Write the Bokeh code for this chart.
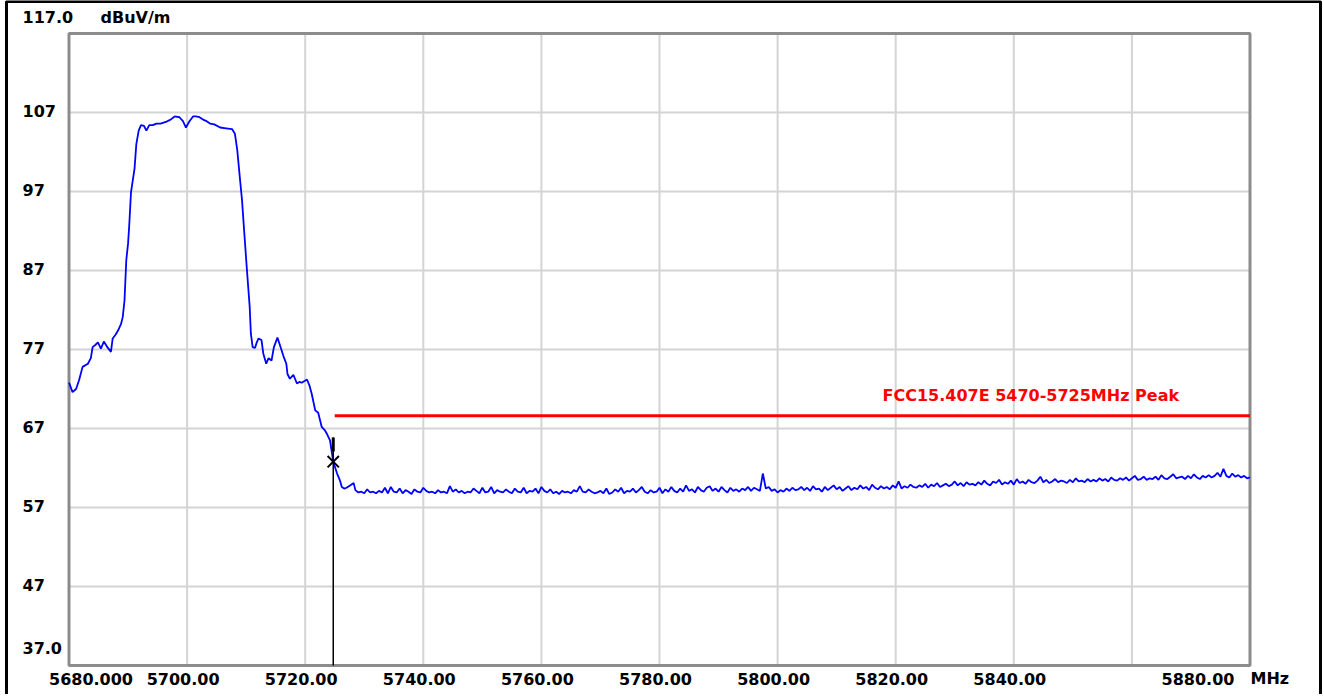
import numpy as np
from bokeh.plotting import figure
from bokeh.models import Range1d, Label
from bokeh.embed import file_html
from bokeh.resources import INLINE

# ---------------- data ----------------
# trace, signal region (MHz, dBuV/m)
sig_freq = [5680.0, 5680.6, 5681.2, 5681.7, 5682.3, 5683.2, 5683.7, 5684.0, 5684.5, 5684.9,
            5685.4, 5685.9, 5686.4, 5687.1, 5687.4, 5687.9, 5688.3, 5688.8, 5689.1, 5689.4,
            5689.7, 5690.0, 5690.2, 5690.5, 5690.8, 5691.1, 5691.4, 5691.8, 5692.2, 5692.7,
            5693.1, 5693.6, 5694.2, 5694.8, 5695.5, 5696.4, 5697.2, 5697.9, 5698.7, 5699.3,
            5699.8, 5700.4, 5701.0, 5701.5, 5702.1, 5702.7, 5703.3, 5703.9, 5704.6, 5705.6,
            5706.6, 5707.6, 5708.1, 5708.5, 5708.9, 5709.3, 5709.7, 5710.1, 5710.6, 5710.8,
            5711.1, 5711.5, 5711.8, 5712.1, 5712.6, 5712.9, 5713.4, 5713.8, 5714.3, 5714.7,
            5715.3, 5715.7, 5716.3, 5716.8, 5717.0, 5717.4, 5718.0, 5718.6, 5719.0, 5719.4,
            5720.3, 5720.7, 5721.1, 5721.7, 5722.2, 5722.8, 5723.3, 5723.7, 5724.2, 5724.75,
            5725.4, 5725.9, 5726.2, 5726.6, 5727.0, 5727.6, 5728.2]
sig_level = [72.8, 71.6, 72.0, 73.1, 74.8, 75.2, 75.9, 77.3, 77.6, 77.9,
             77.1, 78.0, 77.4, 76.7, 78.4, 78.9, 79.4, 80.2, 81.1, 83.2,
             88.3, 90.4, 92.7, 96.9, 98.4, 99.9, 103.0, 104.7, 105.4, 105.3,
             104.7, 105.4, 105.4, 105.6, 105.6, 105.8, 106.1, 106.5, 106.4, 105.9,
             105.1, 105.9, 106.5, 106.5, 106.4, 106.1, 105.9, 105.6, 105.5, 105.1,
             105.0, 104.9, 104.3, 102.2, 99.0, 95.9, 91.6, 87.4, 82.4, 79.0,
             77.3, 77.2, 77.9, 78.4, 78.2, 76.5, 75.2, 75.9, 75.6, 77.3,
             78.5, 77.6, 76.2, 75.2, 73.9, 73.3, 73.8, 72.7, 72.9, 72.8,
             73.2, 72.5, 71.4, 69.3, 69.0, 67.2, 66.8, 66.3, 65.5, 62.8,
             61.3, 60.4, 59.6, 59.4, 59.5, 59.8, 60.1]

# trace, noise floor region: sweep points every 0.5 MHz from 5728.5 MHz
noise_start = 5728.5
noise_step = 0.5
noise_level = [
    59.2, 58.9, 59.0, 58.8, 59.3, 58.9, 59.0, 58.8, 59.1, 58.9,
    59.5, 58.8, 59.6, 59.0, 58.9, 59.4, 58.8, 59.2, 59.0, 58.7,
    59.3, 59.0, 58.9, 59.5, 59.1, 58.9, 59.0, 58.8, 59.2, 58.9,
    59.0, 58.8, 59.7, 59.0, 59.3, 58.9, 59.1, 58.8, 59.0, 58.9,
    59.4, 59.1, 58.8, 59.5, 58.9, 59.0, 59.6, 58.8, 59.2, 59.0,
    58.9, 59.3, 59.0, 58.8, 59.4, 59.0, 58.9, 59.5, 58.8, 59.1,
    59.0, 59.4, 58.8, 59.6, 59.1, 58.9, 59.3, 58.8, 59.0, 58.7,
    59.1, 58.9, 59.0, 58.8, 59.2, 59.0, 59.7, 59.0, 58.9, 59.3,
    59.0, 58.8, 58.9, 59.1, 58.8, 59.4, 58.7, 58.9, 59.3, 59.0,
    59.5, 58.8, 59.1, 59.0, 59.4, 58.9, 59.2, 59.6, 59.0, 58.8,
    59.2, 58.9, 59.0, 59.5, 58.8, 59.3, 59.0, 59.6, 59.1, 58.9,
    59.4, 59.0, 59.8, 59.1, 59.3, 58.9, 59.6, 59.2, 59.0, 59.5,
    59.7, 59.1, 59.4, 59.0, 59.6, 59.2, 58.9, 59.5, 59.1, 59.3,
    59.0, 59.4, 59.2, 59.6, 59.1, 59.5, 59.3, 59.1, 61.3, 59.4,
    59.6, 59.1, 59.3, 58.9, 59.2, 59.0, 59.4, 59.1, 59.5, 59.2,
    59.3, 59.6, 59.2, 59.5, 59.1, 59.7, 59.3, 59.4, 59.0, 59.6,
    59.2, 59.5, 59.8, 59.3, 59.6, 59.1, 59.4, 59.7, 59.2, 59.5,
    59.3, 59.8, 59.4, 59.6, 59.2, 59.9, 59.5, 59.3, 59.7, 59.4,
    59.6, 59.3, 59.8, 59.5, 60.3, 59.4, 59.7, 59.5, 59.9, 59.6,
    59.5, 59.8, 59.6, 60.0, 59.5, 59.9, 59.7, 60.1, 59.6, 59.8,
    60.0, 59.7, 59.9, 60.3, 59.8, 60.1, 59.7, 60.2, 59.9, 60.0,
    59.8, 60.2, 59.9, 60.4, 60.0, 59.8, 60.3, 60.1, 60.5, 59.9,
    60.2, 60.0, 60.4, 59.9, 60.6, 60.1, 60.3, 60.0, 60.5, 60.2,
    60.1, 60.4, 60.9, 60.2, 60.5, 60.1, 60.3, 60.6, 60.2, 60.4,
    60.3, 60.1, 60.5, 60.2, 60.7, 60.3, 60.4, 60.2, 60.6, 60.3,
    60.5, 60.3, 60.7, 60.4, 60.6, 60.3, 60.8, 60.5, 60.4, 60.7,
    60.5, 60.8, 60.4, 60.7, 61.0, 60.5, 60.6, 60.9, 60.5, 60.7,
    60.6, 60.9, 60.5, 61.1, 60.7, 60.6, 60.9, 61.2, 60.7, 60.8,
    60.9, 60.6, 61.0, 60.7, 61.2, 60.8, 60.6, 61.0, 60.8, 61.1,
    60.8, 61.0, 61.4, 60.9, 61.9, 61.0, 60.8, 61.3, 60.9, 61.1,
    60.8, 61.0, 60.7, 60.8]

# limit line
limit_freq = [5725.0, 5880.0]
limit_level = 68.6
limit_text = "FCC15.407E 5470-5725MHz Peak"

# marker
marker_freq = 5724.75
marker_level = 62.8

# axes
x_min, x_max = 5680.0, 5880.0
y_min, y_max = 37.0, 117.0
x_grid = [5700, 5720, 5740, 5760, 5780, 5800, 5820, 5840, 5860]
y_grid = [47, 57, 67, 77, 87, 97, 107]
x_tick_vals = [5680, 5700, 5720, 5740, 5760, 5780, 5800, 5820, 5840, 5880]
x_tick_text = ["5680.000", "5700.00", "5720.00", "5740.00", "5760.00", "5780.00",
               "5800.00", "5820.00", "5840.00", "5880.00"]
y_tick_vals = [117, 107, 97, 87, 77, 67, 57, 47, 37]
y_tick_text = ["117.0", "107", "97", "87", "77", "67", "57", "47", "37.0"]
y_unit = "dBuV/m"
x_unit = "MHz"

# ---------------- layout (pixels on the canvas) ----------------
W, H = 1322, 694
L, R, T, B = 68.5, 1249.5, 33.0, 665.0     # plot box edges
px_x = (R - L) / (x_max - x_min)
px_y = (B - T) / (y_max - y_min)


def dx(px):
    return x_min + (px - L) / px_x


def dy(py):
    return y_max - (py - T) / px_y


p = figure(width=W, height=H, output_backend="svg", toolbar_location=None,
           x_range=Range1d(dx(0), dx(W)), y_range=Range1d(dy(H), dy(0)),
           x_axis_type=None, y_axis_type=None, min_border=0)
p.background_fill_color = "white"
p.border_fill_color = "white"
p.outline_line_color = None
p.xgrid.visible = False
p.ygrid.visible = False

# outer black frame
p.quad(left=[dx(6)], right=[dx(1320)], top=[dy(1)], bottom=[dy(H + 10)],
       fill_color=None, line_color="black", line_width=3)

# grid
p.segment(x0=x_grid, y0=[y_min] * len(x_grid), x1=x_grid, y1=[y_max] * len(x_grid),
          line_color="#d4d4d4", line_width=2)
p.segment(x0=[x_min] * len(y_grid), y0=y_grid, x1=[x_max] * len(y_grid), y1=y_grid,
          line_color="#d4d4d4", line_width=2)

# plot box
p.quad(left=[x_min], right=[x_max], top=[y_max], bottom=[y_min],
       fill_color=None, line_color="#8c8c8c", line_width=3)

# trace
noise_freq = noise_start + noise_step * np.arange(len(noise_level))
freq = list(sig_freq) + list(noise_freq)
level = list(sig_level) + list(noise_level)
p.line(freq, level, line_color="#0000ff", line_width=1.8)

# limit line
FONT = "DejaVu Sans"
p.line(limit_freq, [limit_level, limit_level], line_color="#ff0000", line_width=3)
p.add_layout(Label(x=dx(882), y=dy(395), text=limit_text,
                   text_font=FONT, text_font_size="16px", text_font_style="bold",
                   text_color="#ff0000", text_align="left", text_baseline="middle"))

# marker
p.segment(x0=[marker_freq], y0=[y_min], x1=[marker_freq], y1=[dy(437)],
          line_color="black", line_width=1.5)
p.segment(x0=[marker_freq], y0=[dy(451)], x1=[marker_freq], y1=[dy(437)],
          line_color="black", line_width=3)
p.scatter([marker_freq], [marker_level], marker="x", size=16, line_color="black", line_width=2)

# tick labels
lab_kw = dict(text_font=FONT, text_font_size="16px", text_font_style="bold", text_color="black")
x_off = {5680: 22, 5880: -52}
for v, t in zip(x_tick_vals, x_tick_text):
    p.add_layout(Label(x=v, y=dy(678), x_offset=x_off.get(v, -4), text=t,
                       text_align="center", text_baseline="middle", **lab_kw))
p.add_layout(Label(x=dx(1250), y=dy(678), text=x_unit,
                   text_align="left", text_baseline="middle", **lab_kw))

y_pos = {117: 16.5, 37: 647}
for v, t in zip(y_tick_vals, y_tick_text):
    yy = dy(y_pos[v]) if v in y_pos else v + 2 / px_y
    p.add_layout(Label(x=dx(22), y=yy, text=t,
                       text_align="left", text_baseline="middle", **lab_kw))
p.add_layout(Label(x=dx(100), y=dy(16.5), text=y_unit,
                   text_align="left", text_baseline="middle", **lab_kw))

open("out.html", "w").write(file_html(p, INLINE))
